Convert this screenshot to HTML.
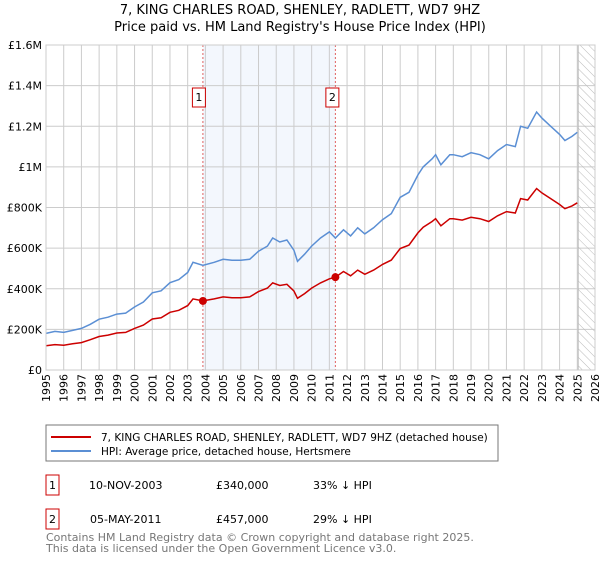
<!DOCTYPE html>
<html><head><meta charset="utf-8"><style>
body{margin:0;background:#fff;font-family:"Liberation Sans","DejaVu Sans",sans-serif}
svg text{font-family:"DejaVu Sans","Liberation Sans",sans-serif}
</style></head><body>
<svg id="c" width="600" height="560" xmlns="http://www.w3.org/2000/svg">
<defs><pattern id="hatch" width="6" height="6" patternUnits="userSpaceOnUse" patternTransform="rotate(-45)"><line x1="0" y1="0" x2="0" y2="6" stroke="#bbb" stroke-width="1"/></pattern></defs>
<text x="300" y="14" font-size="13" text-anchor="middle">7, KING CHARLES ROAD, SHENLEY, RADLETT, WD7 9HZ</text>
<text x="300" y="31" font-size="13" text-anchor="middle">Price paid vs. HM Land Registry's House Price Index (HPI)</text>
<g id="grid"></g><g id="marks"></g><g id="axes"></g>
<g>
<rect x="46" y="425" width="452" height="36" fill="#fff" stroke="#777"/>
<line x1="51" y1="437" x2="91" y2="437" stroke="#cc0000" stroke-width="2"/>
<text x="101" y="441" font-size="10.5">7, KING CHARLES ROAD, SHENLEY, RADLETT, WD7 9HZ (detached house)</text>
<line x1="51" y1="451" x2="91" y2="451" stroke="#5b8fd4" stroke-width="2"/>
<text x="101" y="455" font-size="10.5">HPI: Average price, detached house, Hertsmere</text>
</g>
<g font-size="11">
<rect x="46" y="475" width="13" height="20" fill="none" stroke="#cc0000"/><text x="52.5" y="489" text-anchor="middle">1</text>
<text x="89" y="489">10-NOV-2003</text><text x="216" y="489">£340,000</text><text x="313" y="489">33% ↓ HPI</text>
<rect x="46" y="509" width="13" height="20" fill="none" stroke="#cc0000"/><text x="52.5" y="523" text-anchor="middle">2</text>
<text x="90" y="523">05-MAY-2011</text><text x="216" y="523">£457,000</text><text x="313" y="523">29% ↓ HPI</text>
</g>
<text x="46" y="541" font-size="11" fill="#777">Contains HM Land Registry data © Crown copyright and database right 2025.</text>
<text x="46" y="552" font-size="11" fill="#777">This data is licensed under the Open Government Licence v3.0.</text>
</svg>
<script>
const dates=[1995,1995.5,1996,1996.5,1997,1997.5,1998,1998.5,1999,1999.5,2000,2000.5,2001,2001.5,2002,2002.5,2003,2003.3,2003.86,2004.5,2005,2005.5,2006,2006.5,2007,2007.5,2007.8,2008.2,2008.6,2009,2009.2,2009.6,2010,2010.5,2011,2011.34,2011.8,2012.2,2012.6,2013,2013.5,2014,2014.5,2015,2015.5,2016,2016.3,2016.8,2017,2017.3,2017.8,2018,2018.5,2019,2019.5,2020,2020.5,2021,2021.5,2021.8,2022.2,2022.7,2023,2023.5,2024,2024.3,2024.7,2025];
const hpi=[180,190,185,195,205,225,250,260,275,280,310,335,380,390,430,445,480,530,515,530,545,540,540,545,585,610,650,630,640,590,535,570,610,650,680,650,690,660,700,670,700,740,770,850,875,960,1000,1040,1060,1010,1060,1060,1050,1070,1060,1040,1080,1110,1100,1200,1190,1270,1240,1200,1160,1130,1150,1170];
const prop=[119,125,122,129,135,149,165,172,182,185,205,221,251,257,284,294,317,350,340,350,360,356,356,360,386,403,429,416,422,389,353,376,403,429,449,457,485,464,492,471,492,520,541,598,615,675,703,731,745,710,745,745,738,752,745,731,759,780,773,844,837,893,872,844,815,794,808,823];
const saleDates=[2003.86,2011.34];
const salePrices=[340,457];
const saleLabels=["1","2"];
const yTicks=[0,200,400,600,800,1000,1200,1400,1600];
const yTickLabels=["£0","£200K","£400K","£600K","£800K","£1M","£1.2M","£1.4M","£1.6M"];
const L=46,R=595,T=45,B=370,X0=1995,X1=2026,dataEnd=2025.05;
const x=v=>L+(v-X0)/(X1-X0)*(R-L);
const y=v=>B-v/1600*(B-T);
const NS="http://www.w3.org/2000/svg";
function mk(p,t,a){const e=document.createElementNS(NS,t);for(const k in a)e.setAttribute(k,a[k]);p.appendChild(e);return e;}
const grid=document.getElementById('grid'),marks=document.getElementById('marks'),axes=document.getElementById('axes');
let sh=mk(grid,'rect',{x:x(saleDates[0]),y:T,width:x(saleDates[1])-x(saleDates[0]),height:B-T,fill:'#eef3fc',opacity:0.7});


for(let yr=X0;yr<=X1;yr++){const l=mk(grid,'line',{x1:x(yr),x2:x(yr),y1:T,y2:B,stroke:'#ccc'});


const t=mk(axes,'text',{x:0,y:0,'font-size':11,'text-anchor':'end',transform:`translate(${x(yr)+4},${B+4}) rotate(-90)`});t.textContent=yr;

}
yTicks.forEach((v,i)=>{const l=mk(grid,'line',{x1:L,x2:R,y1:y(v),y2:y(v),stroke:'#ccc'});


const t=mk(axes,'text',{x:L-4,y:y(v)+4,'font-size':11,'text-anchor':'end'});t.textContent=yTickLabels[i];

});
const hz=mk(grid,'rect',{x:x(dataEnd),y:T,width:R-x(dataEnd),height:B-T,fill:'url(#hatch)',stroke:'#bbb'});


const fr=mk(axes,'rect',{x:L,y:T,width:R-L,height:B-T,fill:'none',stroke:'#ccc'});


saleDates.forEach((d,i)=>{const l=mk(marks,'line',{x1:x(d),x2:x(d),y1:T,y2:B,stroke:'#e06060','stroke-dasharray':'2,2'});


const bx=x(d)-(i==0?4:3);
const r=mk(marks,'rect',{x:bx-6.5,y:88,width:13,height:19,fill:'#fff',stroke:'#cc0000'});


const t=mk(marks,'text',{x:bx,y:101,'font-size':11,'text-anchor':'middle'});t.textContent=saleLabels[i];});
const path=(arr,col,name)=>{const p=mk(marks,'path',{d:arr.map((v,i)=>(i?'L':'M')+x(dates[i]).toFixed(1)+','+y(v).toFixed(1)).join(''),fill:'none',stroke:col,'stroke-width':1.5});

};
path(hpi,'#5b8fd4','hpi-line');
path(prop,'#cc0000','property-line');
saleDates.forEach((d,i)=>{const c=mk(marks,'circle',{cx:x(d),cy:y(salePrices[i]),r:4,fill:'#cc0000'});

});
</script>
</body></html>
